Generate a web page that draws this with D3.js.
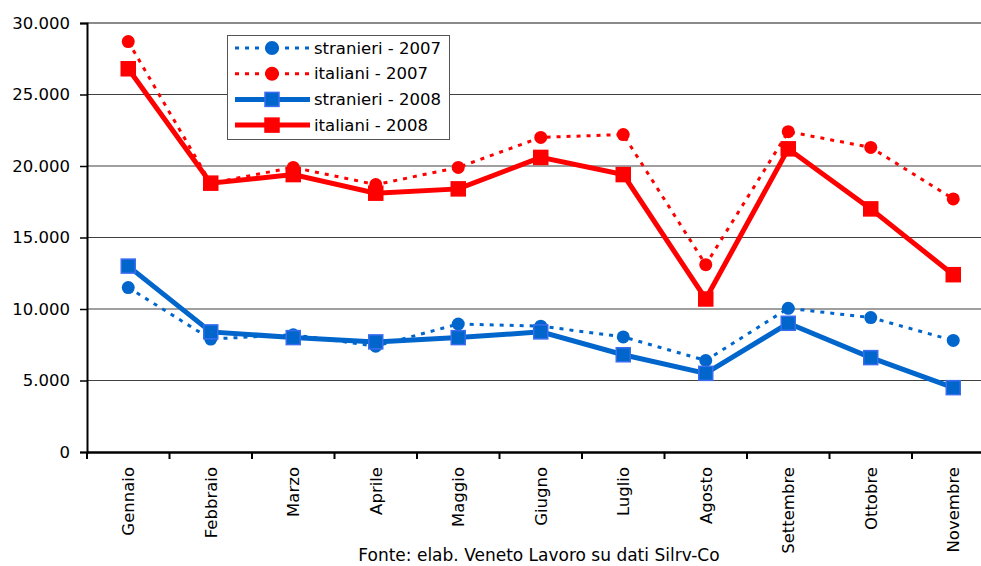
<!DOCTYPE html>
<html>
<head>
<meta charset="utf-8">
<script src="https://cdn.jsdelivr.net/npm/d3@7"></script>
<style>
  body { margin: 0; background: #fff; }
  text { font-family: "DejaVu Sans", Verdana, sans-serif; fill: #000; }
</style>
</head>
<body>
<script>
var months = ['Gennaio', 'Febbraio', 'Marzo', 'Aprile', 'Maggio', 'Giugno', 'Luglio', 'Agosto', 'Settembre', 'Ottobre', 'Novembre'];
var stranieri2007 = [11500, 7900, 8200, 7400, 8950, 8800, 8050, 6400, 10050, 9400, 7800];
var italiani2007 = [28700, 18800, 19900, 18700, 19900, 22000, 22200, 13100, 22400, 21300, 17700];
var stranieri2008 = [13000, 8400, 8000, 7700, 8000, 8400, 6800, 5500, 9000, 6600, 4500];
var italiani2008 = [26800, 18800, 19400, 18100, 18400, 20600, 19400, 10700, 21200, 17000, 12400];
var yTicks = [0, 5000, 10000, 15000, 20000, 25000, 30000];
var fonte = 'Fonte: elab. Veneto Lavoro su dati Silrv-Co';

var series = [
    { name: 'stranieri - 2007', values: stranieri2007, color: '#0066cc', dash: '4,6', width: 3, marker: 'circle' },
    { name: 'italiani - 2007', values: italiani2007, color: '#ff0000', dash: '4,6', width: 3, marker: 'circle' },
    { name: 'stranieri - 2008', values: stranieri2008, color: '#0066cc', dash: null, width: 5, marker: 'square', stroke: '#3a6cf0' },
    { name: 'italiani - 2008', values: italiani2008, color: '#ff0000', dash: null, width: 5, marker: 'square', stroke: '#ff0000' }
];

var width = 981, height = 566;
var plotLeft = 87, plotRight = 994.5, plotTop = 23, plotBottom = 452;
var fontSize = '16.5px';

var svg = d3.select('body').append('svg')
    .attr('width', width)
    .attr('height', height);

var x = d3.scaleBand().domain(months).range([plotLeft, plotRight]);
var y = d3.scaleLinear().domain([0, 30000]).range([plotBottom, plotTop]);

// gridlines
svg.append('g')
    .selectAll('line')
    .data(yTicks.filter(function(d) { return d > 0; }))
    .enter().append('line')
        .attr('x1', plotLeft).attr('x2', plotRight)
        .attr('y1', function(d) { return y(d); })
        .attr('y2', function(d) { return y(d); })
        .attr('stroke', function(d) { return d == 30000 ? '#8a8a8a' : '#404040'; })
        .attr('stroke-width', function(d) { return d == 30000 ? 2 : 1; });

// y axis
var yAxis = svg.append('g')
    .attr('transform', 'translate(' + plotLeft + ',0)')
    .call(d3.axisLeft(y).tickValues(yTicks).tickSize(7).tickPadding(10)
        .tickFormat(function(d) { return d3.format(',')(d).replace(/,/g, '.'); }));
yAxis.select('.domain').attr('stroke', '#000').attr('stroke-width', 2);
yAxis.selectAll('.tick line').attr('stroke', '#000').attr('stroke-width', 1.5);
yAxis.selectAll('.tick text').style('font-size', fontSize).style('font-family', '"DejaVu Sans", sans-serif');

// x axis
var xAxis = svg.append('g')
    .attr('transform', 'translate(0,' + plotBottom + ')')
    .call(d3.axisBottom(x).tickSize(0).tickSizeOuter(0));
xAxis.select('.domain').attr('stroke', '#000').attr('stroke-width', 2.5);
xAxis.selectAll('.tick text')
    .style('font-size', fontSize)
    .style('font-family', '"DejaVu Sans", sans-serif')
    .attr('text-anchor', 'end')
    .attr('transform', 'rotate(-90)')
    .attr('x', -15)
    .attr('y', 0)
    .attr('dy', '0.35em');

svg.append('g')
    .selectAll('line')
    .data(months)
    .enter().append('line')
        .attr('x1', function(d) { return x(d); })
        .attr('x2', function(d) { return x(d); })
        .attr('y1', plotBottom).attr('y2', plotBottom + 7)
        .attr('stroke', '#000').attr('stroke-width', 2);

var line = d3.line()
    .x(function(d, i) { return x(months[i]) + x.bandwidth() / 2; })
    .y(function(d) { return y(d); });

series.forEach(function(s) {
    var g = svg.append('g');
    g.append('path')
        .attr('d', line(s.values))
        .attr('fill', 'none')
        .attr('stroke', s.color)
        .attr('stroke-width', s.width)
        .attr('stroke-dasharray', s.dash);
    if (s.marker == 'circle') {
        g.selectAll('circle')
            .data(s.values)
            .enter().append('circle')
                .attr('cx', function(d, i) { return x(months[i]) + x.bandwidth() / 2; })
                .attr('cy', function(d) { return y(d); })
                .attr('r', 6.5)
                .attr('fill', s.color);
    } else {
        g.selectAll('rect')
            .data(s.values)
            .enter().append('rect')
                .attr('x', function(d, i) { return x(months[i]) + x.bandwidth() / 2 - 7; })
                .attr('y', function(d) { return y(d) - 7; })
                .attr('width', 14).attr('height', 14)
                .attr('fill', s.color)
                .attr('stroke', s.stroke)
                .attr('stroke-width', 1.5);
    }
});

// legend
var legend = svg.append('g');
legend.append('rect')
    .attr('x', 227.5).attr('y', 35.5)
    .attr('width', 222).attr('height', 104)
    .attr('fill', '#fff')
    .attr('stroke', '#555')
    .attr('stroke-width', 1);

series.forEach(function(s, i) {
    var cy = 48 + i * 25.7;
    legend.append('line')
        .attr('x1', 235).attr('x2', 310)
        .attr('y1', cy).attr('y2', cy)
        .attr('stroke', s.color)
        .attr('stroke-width', s.width)
        .attr('stroke-dasharray', s.dash);
    if (s.marker == 'circle') {
        legend.append('circle')
            .attr('cx', 272).attr('cy', cy).attr('r', 7)
            .attr('fill', s.color);
    } else {
        legend.append('rect')
            .attr('x', 265).attr('y', cy - 7)
            .attr('width', 14).attr('height', 14)
            .attr('fill', s.color)
            .attr('stroke', s.stroke)
            .attr('stroke-width', 1.5);
    }
    legend.append('text')
        .attr('x', 314).attr('y', cy)
        .attr('dy', '0.35em')
        .style('font-size', fontSize)
        .text(s.name);
});

svg.append('text')
    .attr('x', 539).attr('y', 561)
    .attr('text-anchor', 'middle')
    .style('font-size', '17px')
    .text(fonte);
</script>
</body>
</html>
